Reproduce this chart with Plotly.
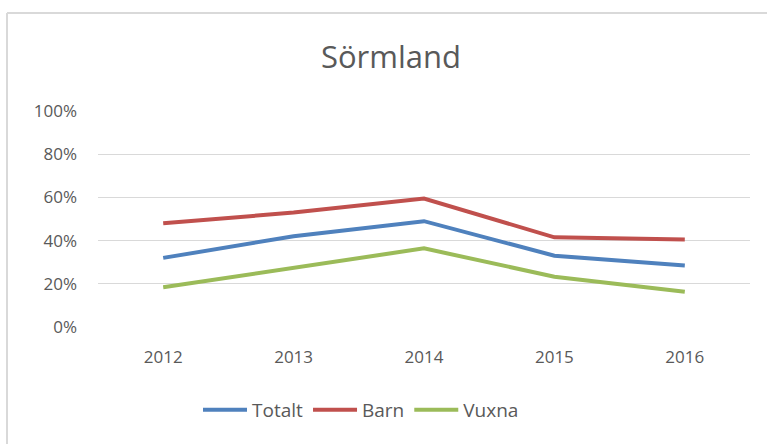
import plotly.graph_objects as go

years = ["2012", "2013", "2014", "2015", "2016"]
totalt = [0.32, 0.42, 0.49, 0.33, 0.285]
barn = [0.48, 0.53, 0.595, 0.415, 0.405]
vuxna = [0.184, 0.272, 0.364, 0.233, 0.163]
y_ticks = [0, 0.2, 0.4, 0.6, 0.8, 1.0]
y_labels = ["0%", "20%", "40%", "60%", "80%", "100%"]

series = [("Totalt", totalt, "#4F81BD"), ("Barn", barn, "#C0504D"), ("Vuxna", vuxna, "#9BBB59")]

fig = go.Figure()
for name, vals, col in series:
    fig.add_trace(go.Scatter(x=years, y=vals, name=name, mode="lines",
                             line=dict(color=col, width=4)))

W, H = 767, 444
L, R, T, B = 98, 17, 111, 117
pw, ph = W - L - R, H - T - B

def px(x):
    return (x - L) / pw

def py(y):
    return (H - B - y) / ph

fig.update_layout(
    width=W, height=H,
    margin=dict(l=L, r=R, t=T, b=B),
    paper_bgcolor="white", plot_bgcolor="white",
    font=dict(family="Open Sans", color="#595959"),
    title=dict(text="Sörmland", x=px(391), xref="paper", xanchor="center",
               y=1 - 57 / H, yanchor="middle", font=dict(size=31, color="#595959")),
    showlegend=True,
    legend=dict(orientation="h", x=px(361), xanchor="center", y=py(410), yanchor="middle",
                font=dict(size=19, color="#595959"), itemwidth=44, tracegroupgap=0),
    shapes=[
        dict(type="line", xref="paper", yref="paper", x0=px(7), x1=px(767), y0=py(13), y1=py(13),
             line=dict(color="#d9d9d9", width=2)),
        dict(type="line", xref="paper", yref="paper", x0=px(7), x1=px(7), y0=py(13), y1=py(444),
             line=dict(color="#d9d9d9", width=2)),
    ],
)
fig.update_xaxes(type="category", range=[-0.5, 4.5], showgrid=False, zeroline=False,
                 showline=False, ticks="",
                 tickfont=dict(size=17, color="#595959"), ticklabelstandoff=18)
fig.update_yaxes(range=[0, 1], tickvals=y_ticks, ticktext=y_labels, showgrid=True,
                 gridcolor="#d9d9d9", gridwidth=1, zeroline=False, showline=False, ticks="",
                 tickfont=dict(size=17, color="#595959"), ticklabelstandoff=20)

fig.write_html("out.html", config={"displayModeBar": False},
               post_script="document.body.style.margin='0';document.body.style.overflow='hidden';")
